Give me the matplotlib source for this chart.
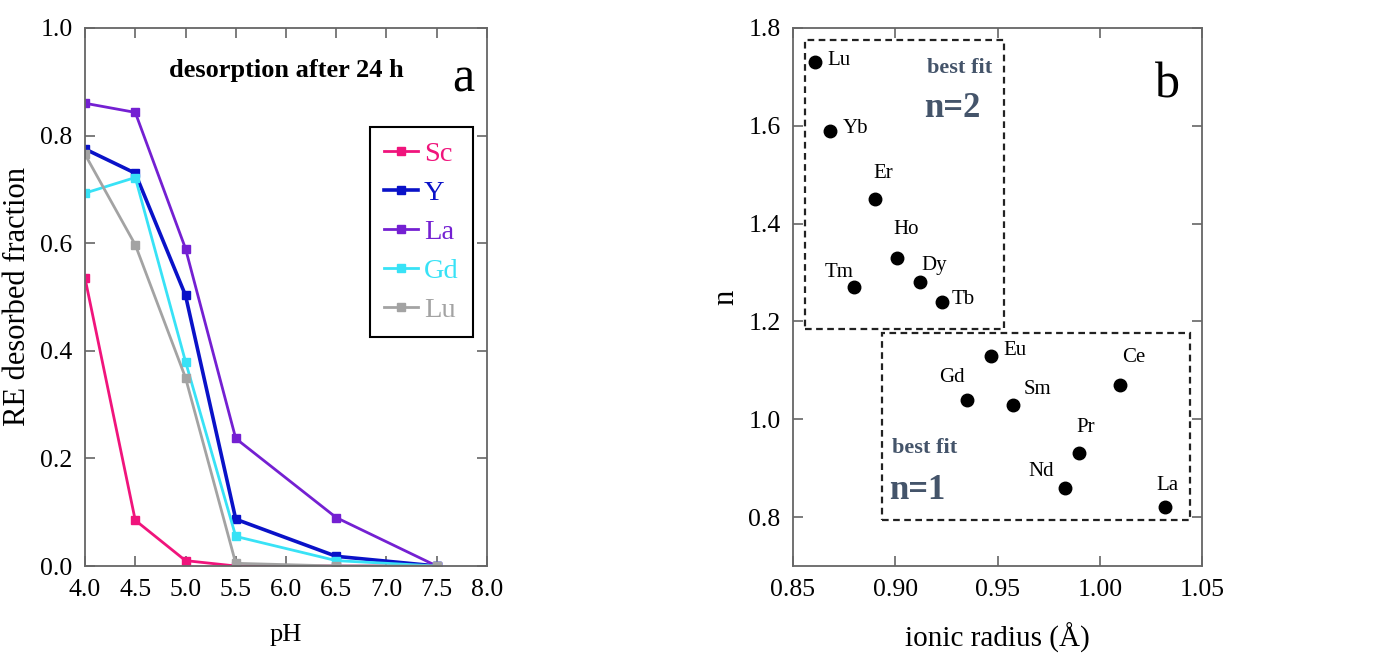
import numpy as np
import matplotlib
matplotlib.use("Agg")
import matplotlib.pyplot as plt
from matplotlib.patches import Rectangle

plt.rcParams['font.family'] = ['Liberation Serif', 'DejaVu Serif']

### data, panel a (desorbed fraction vs pH)
ph = [4.0, 4.5, 5.0, 5.5, 6.5, 7.5]
sc = [0.535, 0.085, 0.010, 0.000, 0.000, 0.000]
y_ = [0.775, 0.730, 0.503, 0.087, 0.018, 0.000]
la = [0.860, 0.843, 0.590, 0.237, 0.090, 0.000]
gd = [0.693, 0.722, 0.380, 0.055, 0.010, 0.000]
lu = [0.765, 0.597, 0.350, 0.005, 0.000, 0.000]
series_names = ['Sc', 'Y', 'La', 'Gd', 'Lu']
series_vals = [sc, y_, la, gd, lu]
series_cols = ['#f0147c', '#0a12c8', '#7420d2', '#38e2f6', '#a3a3a3']
series_lw = [2.0, 2.6, 2.0, 2.0, 2.0]

### data, panel b (n vs ionic radius)
elements = ['Lu', 'Yb', 'Er', 'Ho', 'Dy', 'Tb', 'Tm',
            'Eu', 'Gd', 'Sm', 'Ce', 'Pr', 'Nd', 'La']
radius = [0.861, 0.868, 0.890, 0.901, 0.912, 0.923, 0.880,
          0.947, 0.935, 0.9575, 1.010, 0.990, 0.983, 1.032]
n_val = [1.73, 1.59, 1.45, 1.33, 1.28, 1.24, 1.27,
         1.13, 1.04, 1.03, 1.07, 0.93, 0.86, 0.82]
# label offsets in pixels (dx, dy, horizontal alignment)
lab_off = [(12, 2, 'left'), (13, 2, 'left'), (8, 26, 'center'), (9, 28, 'center'),
           (14, 17, 'center'), (9, 2, 'left'), (-15, 15, 'center'),
           (12, 5, 'left'), (-15, 22, 'center'), (11, 15, 'left'),
           (14, 28, 'center'), (6, 26, 'center'), (-24, 16, 'center'), (2, 22, 'center')]

fig = plt.figure(figsize=(13.89, 6.57), dpi=100)
ax1 = fig.add_axes([0.0612, 0.1385, 0.2894, 0.819])
ax2 = fig.add_axes([0.5709, 0.1385, 0.2945, 0.819])

spine_col = '#666666'
for ax in (ax1, ax2):
    for s in ax.spines.values():
        s.set_color(spine_col)
        s.set_linewidth(1.3)
    ax.tick_params(direction='in', length=7, width=1.2, color=spine_col,
                   top=True, right=True, labelsize=18.5, pad=9)

### panel a
for name, vals, col, lw in zip(series_names, series_vals, series_cols, series_lw):
    ax1.plot(ph, vals, '-s', color=col, lw=lw, ms=5.5, label=name)
ax1.set_xlim(4.0, 8.0)
ax1.set_ylim(0.0, 1.0)
ax1.set_xticks(np.arange(4.0, 8.01, 0.5))
ax1.set_yticks(np.arange(0.0, 1.01, 0.2))
ax1.xaxis.set_major_formatter(matplotlib.ticker.FormatStrFormatter('%.1f'))
ax1.yaxis.set_major_formatter(matplotlib.ticker.FormatStrFormatter('%.1f'))
ax1.set_xlabel('pH', fontsize=19, labelpad=17)
ax1.set_ylabel('RE desorbed fraction', fontsize=22, labelpad=6)
ax1.text(0.50, 0.92, 'desorption after 24 h', transform=ax1.transAxes,
         ha='center', va='center', fontsize=19, fontweight='bold')
ax1.text(0.94, 0.905, 'a', transform=ax1.transAxes, ha='center', va='center',
         fontsize=36)
leg = ax1.legend(loc='upper left', bbox_to_anchor=(0.709, 0.816), fontsize=20.5,
                 handlelength=1.2, handletextpad=0.2, labelspacing=0.46,
                 borderpad=0.5, borderaxespad=0, fancybox=False, framealpha=1)
leg.get_frame().set_edgecolor('black')
leg.get_frame().set_linewidth(1.5)
for txt, col in zip(leg.get_texts(), series_cols):
    txt.set_color(col)

### panel b
ax2.plot(radius, n_val, 'o', color='black', ms=9)
for el, xr, yn, (dx, dy, ha) in zip(elements, radius, n_val, lab_off):
    ax2.annotate(el, (xr, yn), xytext=(dx, dy), textcoords='offset pixels',
                 ha=ha, va='center', fontsize=15)
ax2.set_xlim(0.85, 1.05)
ax2.set_ylim(0.7, 1.8)
ax2.set_xticks(np.arange(0.85, 1.051, 0.05))
ax2.set_yticks(np.arange(0.8, 1.81, 0.2))
ax2.xaxis.set_major_formatter(matplotlib.ticker.FormatStrFormatter('%.2f'))
ax2.yaxis.set_major_formatter(matplotlib.ticker.FormatStrFormatter('%.1f'))
ax2.set_xlabel('ionic radius (Å)', fontsize=21, labelpad=16)
ax2.set_ylabel('n', fontsize=22, labelpad=6)

# dashed boxes for the two fit groups
ax2.add_patch(Rectangle((0.856, 1.184), 0.953 - 0.856, 1.775 - 1.184, fill=False,
                        ls=(0, (3, 2)), lw=1.6, ec='#222222'))
ax2.add_patch(Rectangle((0.8935, 0.794), 1.044 - 0.8935, 1.176 - 0.794, fill=False,
                        ls=(0, (3, 2)), lw=1.6, ec='#222222'))
fit_col = '#44546a'
ax2.text(0.9317, 1.718, 'best fit', ha='center', va='center', fontsize=16,
         fontweight='bold', color=fit_col)
ax2.text(0.9278, 1.636, 'n=2', ha='center', va='center', fontsize=25,
         fontweight='bold', color=fit_col)
ax2.text(0.9146, 0.941, 'best fit', ha='center', va='center', fontsize=16,
         fontweight='bold', color=fit_col)
ax2.text(0.9106, 0.855, 'n=1', ha='center', va='center', fontsize=25,
         fontweight='bold', color=fit_col)
ax2.text(1.0329, 1.683, 'b', ha='center', va='center', fontsize=36)

fig.savefig('out.png', dpi=100)
